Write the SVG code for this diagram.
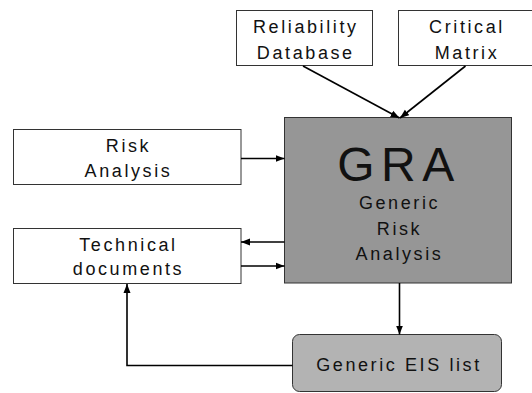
<svg xmlns="http://www.w3.org/2000/svg" width="532" height="393" viewBox="0 0 532 393">
<style>
text{font-family:"Liberation Sans",Arial,sans-serif;font-size:18px;letter-spacing:2.6px;text-anchor:middle;fill:#111}
.box{fill:#fff;stroke:#333;stroke-width:1}
.gra{fill:#969696;stroke:#333;stroke-width:1}
.eis{fill:#b3b3b3;stroke:#333;stroke-width:1}
.big{font-size:48px;letter-spacing:6.5px}
.c{fill:none;stroke:#000;stroke-width:1.6}
</style>
<defs>
<marker id="ah" markerWidth="10" markerHeight="8" refX="9" refY="4" orient="auto" markerUnits="userSpaceOnUse">
<path d="M0,0.5 L9,4 L0,7.5 Z" fill="#000"/>
</marker>
</defs>
<rect width="532" height="393" fill="#fff"/>
<g id="reliability">
<rect class="box" x="236.5" y="10.5" width="136" height="55"/>
<text x="305.8" y="33">Reliability</text>
<text x="305.8" y="59">Database</text>
</g>
<g id="critical">
<rect class="box" x="398.5" y="10.5" width="136" height="55"/>
<text x="467" y="33">Critical</text>
<text x="467" y="59">Matrix</text>
</g>
<g id="risk">
<rect class="box" x="13.5" y="129.5" width="227.5" height="55"/>
<text x="128.5" y="151.5">Risk</text>
<text x="128.5" y="177">Analysis</text>
</g>
<g id="technical">
<rect class="box" x="13.5" y="228.5" width="227.5" height="55"/>
<text x="128.5" y="250.5">Technical</text>
<text x="128.5" y="274.5">documents</text>
</g>
<g id="gra">
<rect class="gra" x="284.5" y="117.5" width="227" height="165.5"/>
<text class="big" x="399" y="181">GRA</text>
<text x="399.5" y="209">Generic</text>
<text x="399.5" y="235">Risk</text>
<text x="399.5" y="260">Analysis</text>
</g>
<g id="eis">
<rect class="eis" x="292.5" y="334.5" width="209" height="57" rx="7" ry="7"/>
<text x="399" y="370.5">Generic EIS list</text>
</g>
<g id="connectors">
<line class="c" x1="303" y1="66" x2="399.5" y2="118" marker-end="url(#ah)"/>
<line class="c" x1="465.5" y1="66" x2="400" y2="118" marker-end="url(#ah)"/>
<line class="c" x1="241" y1="158.5" x2="284.5" y2="158.5" marker-end="url(#ah)"/>
<line class="c" x1="284.5" y1="242" x2="241" y2="242" marker-end="url(#ah)"/>
<line class="c" x1="241" y1="266" x2="284.5" y2="266" marker-end="url(#ah)"/>
<line class="c" x1="399.5" y1="283" x2="399.5" y2="334.5" marker-end="url(#ah)"/>
<polyline class="c" points="292.5,365.5 127,365.5 127,284" marker-end="url(#ah)"/>
</g>
</svg>
